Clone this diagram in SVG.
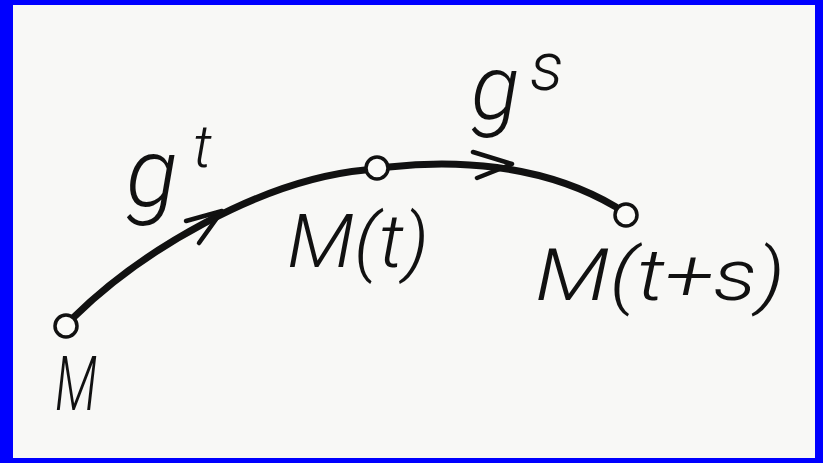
<svg xmlns="http://www.w3.org/2000/svg" width="823" height="463" viewBox="0 0 823 463">
<style>
.lbl{font-family:"Roboto","Liberation Sans","DejaVu Sans",sans-serif;font-style:italic;font-weight:300;fill:#111;}
.curve{fill:none;stroke:#111;stroke-width:7;stroke-linecap:round;}
.barb{fill:none;stroke:#111;stroke-width:4.5;stroke-linecap:round;stroke-linejoin:round;}
.node{fill:#fafaf8;stroke:#111;stroke-width:3.5;}
</style>
<rect x="0" y="0" width="823" height="463" fill="#0000ff"/>
<rect x="13" y="5" width="802" height="453" fill="#f8f8f6"/>
<g id="connectors">
  <path class="curve" d="M74 317 C140 252 260 180 365 170"/>
  <path class="barb" d="M186 221 L222 211 L199 243"/>
  <path class="curve" d="M389 167 C450 160 540 162 616 207"/>
  <path class="barb" d="M473 152 L512 164 L477 178"/>
</g>
<g id="node-M">
  <circle class="node" cx="66" cy="326" r="11"/>
  <text class="lbl" x="55" y="410" font-size="76" textLength="42" lengthAdjust="spacingAndGlyphs">M</text>
</g>
<g id="node-Mt">
  <circle class="node" cx="377" cy="168" r="11"/>
  <text class="lbl" x="287" y="267" font-size="74" textLength="142" lengthAdjust="spacingAndGlyphs">M(t)</text>
</g>
<g id="node-Mts">
  <circle class="node" cx="626" cy="215" r="11"/>
  <text class="lbl" x="535" y="300" font-size="72" textLength="250" lengthAdjust="spacingAndGlyphs">M(t+s)</text>
</g>
<g id="label-gt">
  <text class="lbl" x="126" y="206" font-size="96">g</text>
  <text class="lbl" x="193" y="167" font-size="60">t</text>
</g>
<g id="label-gs">
  <text class="lbl" x="471" y="119" font-size="90">g</text>
  <text class="lbl" x="530" y="90" font-size="68">s</text>
</g>
</svg>
